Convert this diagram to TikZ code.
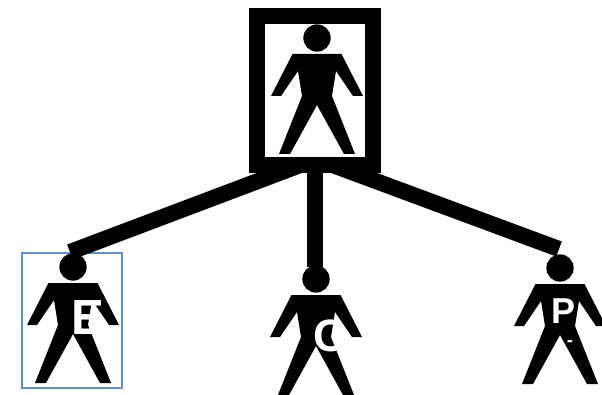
\documentclass[tikz,border=0pt]{standalone}
\usepackage{fontspec}
\setmainfont{Liberation Sans}
\usetikzlibrary{calc}
\definecolor{boxblue}{HTML}{5B8FD6}
\tikzset{
  link/.style={line width=12pt},
  bossbox/.style={draw,line width=12pt,minimum width=87pt,minimum height=112pt,outer sep=0pt,inner sep=0pt},
  headdot/.style={circle,fill=black,minimum size=20.5pt,inner sep=0pt,outer sep=0pt},
  tag/.style={text=white,inner sep=0pt,font=\bfseries}
}
\newcommand{\drawperson}[3]{% {name}{x}{y}
  \begin{scope}[shift={(#2,#3)}]
    % Head
    \node[headdot] (#1) at (0,0) {};
    % Body, arms and legs
    \fill (-24.5,16) -- (24.5,16) -- (46,58) -- (36,58) -- (19,33) -- (15,58)
      -- (38,116) -- (27,116) -- (0,67) -- (-27,116) -- (-38,116) -- (-15,58)
      -- (-19,33) -- (-36,58) -- (-46,58) -- cycle;
  \end{scope}
}
\begin{document}
\begin{tikzpicture}[x=0.75pt,y=-0.75pt]
  \clip (0,0) rectangle (602,395);
  % Top figure in its frame
  \node[bossbox] (boss) at (315,90.5) {};
  \drawperson{headtop}{317}{38}
  % Lower figures
  \drawperson{heade}{73}{267}
  \drawperson{headc}{316}{279}
  \drawperson{headp}{560}{268}
  % Blue frame
  \node[draw=boxblue,line width=1.3pt,minimum width=75pt,minimum height=101pt,inner sep=0pt] (framee) at (72,320.5) {};
  % Links
  \coordinate (ende) at (70,252);
  \coordinate (endc) at ($(headc.north)+(-1,2)$);
  \coordinate (endp) at (559,249);
  \draw[link] ($(boss.south)+(-15,0)$) -- (ende);
  \draw[link] (boss.south) -- (endc);
  \draw[link] ($(boss.south)+(18,0)$) -- (endp);
  % Letters
  \node[tag,font=\bfseries\fontsize{37}{37}\selectfont] (lettere) at (88,318) {E};
  \node[tag,font=\bfseries\fontsize{34}{34}\selectfont] (letterc) at (330,336) {C};
  \node[tag,font=\bfseries\fontsize{27}{27}\selectfont] (letterp) at (563,311) {P};
  \node[tag,font=\bfseries\fontsize{14}{14}\selectfont] (dashp) at (570,344) {-};
\end{tikzpicture}
\end{document}
